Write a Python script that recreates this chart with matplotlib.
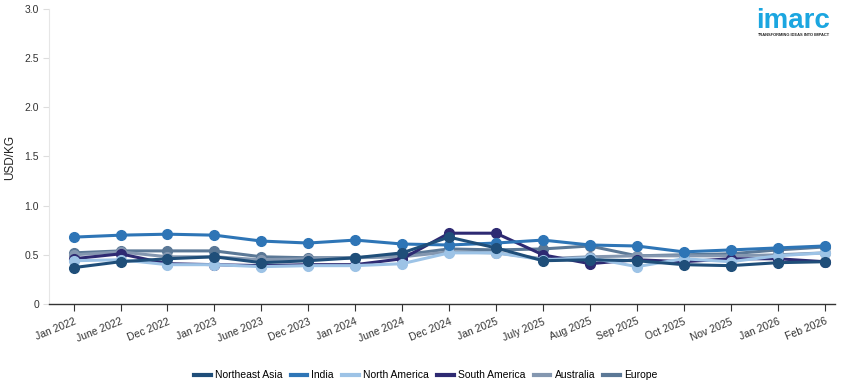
import matplotlib
matplotlib.use("Agg")
import matplotlib.pyplot as plt
from matplotlib.lines import Line2D

plt.rcParams['font.family'] = ['Liberation Sans', 'DejaVu Sans']

categories = ["Jan 2022", "June 2022", "Dec 2022", "Jan 2023", "June 2023", "Dec 2023",
              "Jan 2024", "June 2024", "Dec 2024", "Jan 2025", "July 2025", "Aug 2025",
              "Sep 2025", "Oct 2025", "Nov 2025", "Jan 2026", "Feb 2026"]

northeast_asia = [0.37, 0.43, 0.46, 0.48, 0.42, 0.44, 0.47, 0.52, 0.68, 0.57, 0.44, 0.45, 0.44, 0.40, 0.39, 0.42, 0.43]
india          = [0.68, 0.70, 0.71, 0.70, 0.64, 0.62, 0.65, 0.61, 0.60, 0.62, 0.65, 0.60, 0.59, 0.53, 0.55, 0.57, 0.59]
north_america  = [0.44, 0.45, 0.40, 0.40, 0.38, 0.39, 0.39, 0.41, 0.52, 0.52, 0.45, 0.47, 0.38, 0.46, 0.43, 0.49, 0.52]
south_america  = [0.46, 0.51, 0.41, 0.40, 0.39, 0.40, 0.40, 0.46, 0.72, 0.72, 0.50, 0.41, 0.45, 0.43, 0.46, 0.46, 0.43]
australia      = [0.50, 0.53, 0.48, 0.48, 0.45, 0.46, 0.47, 0.48, 0.53, 0.52, 0.46, 0.48, 0.49, 0.49, 0.49, 0.50, 0.52]
europe         = [0.52, 0.54, 0.54, 0.54, 0.48, 0.47, 0.47, 0.50, 0.56, 0.55, 0.56, 0.59, 0.49, 0.50, 0.51, 0.55, 0.58]

series = [
    ("Northeast Asia", northeast_asia, "#1f4e79"),
    ("India", india, "#2e75b6"),
    ("North America", north_america, "#9dc3e6"),
    ("South America", south_america, "#2e2a72"),
    ("Australia", australia, "#8497b0"),
    ("Europe", europe, "#5b7896"),
]

fig = plt.figure(figsize=(8.55, 3.9), dpi=100)
ax = fig.add_axes([0.057, 0.2205, 0.92, 0.7565])

x = list(range(len(categories)))
n = len(series)
for i, (name, vals, col) in enumerate(series):
    ax.plot(x, vals, color=col, lw=2.2, marker='o', ms=7, zorder=10 + (n - i))

ax.set_xlim(-0.53, 16.23)
ax.set_ylim(0, 3.0)
ax.set_yticks([0, 0.5, 1.0, 1.5, 2.0, 2.5, 3.0])
ax.set_yticklabels(["0", "0.5", "1.0", "1.5", "2.0", "2.5", "3.0"])
ax.set_xticks(x)
ax.set_xticklabels(categories, rotation=22, ha='right', rotation_mode='anchor')
ax.tick_params(axis='x', length=5, color='#333333', labelsize=7.5, pad=4, labelcolor='#333333')
ax.tick_params(axis='y', length=4, color='#dddddd', labelsize=7.5, pad=3, labelcolor='#333333')

for s in ['top', 'right']:
    ax.spines[s].set_visible(False)
ax.spines['left'].set_color('#e6e6e6')
ax.spines['bottom'].set_color('#333333')
ax.spines['bottom'].set_linewidth(1.0)

fig.text(10 / 855, 1 - 157 / 390, "USD/KG", fontsize=8.5, rotation=90,
         ha='center', va='center', color='#222222')

handles = [Line2D([0], [0], color=c, lw=3) for _, _, c in series]
fig.legend(handles, [s[0] for s in series], loc='center', bbox_to_anchor=(0.498, 0.038),
           ncol=6, frameon=False, fontsize=7.5, handlelength=1.6, handletextpad=0.4,
           columnspacing=0.8)

fig.text(0.927, 0.945, "imarc", color="#1ba6e0", fontsize=20, fontweight='bold',
         ha='center', va='center')
fig.text(0.927, 0.91, "TRANSFORMING IDEAS INTO IMPACT", color="#222222", fontsize=2.9,
         ha='center', va='center', fontweight='bold')

fig.savefig("out.png", dpi=100)
